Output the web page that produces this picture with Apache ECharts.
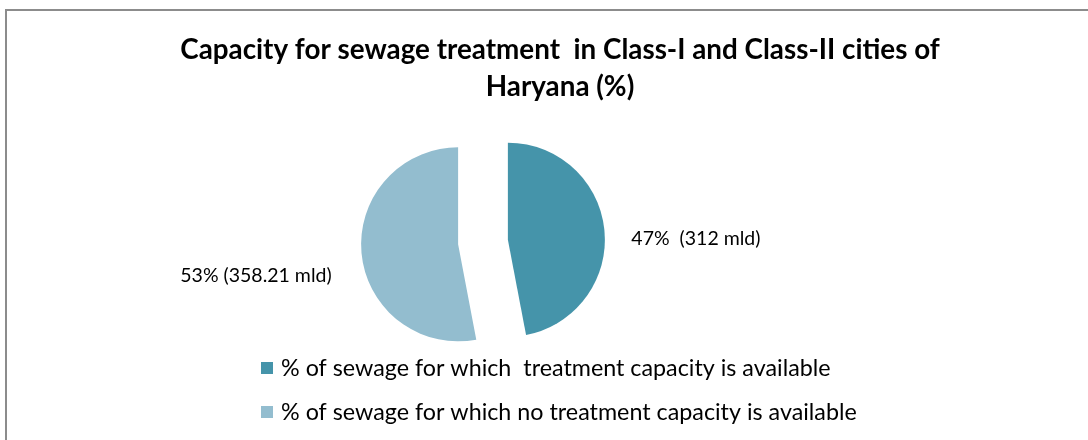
<!DOCTYPE html>
<html>
<head>
<meta charset="utf-8">
<script src="https://cdn.jsdelivr.net/npm/echarts@6/dist/echarts.min.js"></script>
<style>
html,body{margin:0;padding:0;background:#fff;}
#chart{width:1088px;height:440px;}
</style>
</head>
<body>
<div id="chart"></div>
<script>
const titleText = 'Capacity for sewage treatment  in Class-I and Class-II cities of\nHaryana (%)';
const categories = [
  '% of sewage for which  treatment capacity is available',
  '% of sewage for which no treatment capacity is available'
];
const percentValues = [47, 53];
const mldLabels = ['47%  (312 mld)', '53% (358.21 mld)'];
const colors = ['#4594aa', '#93bdcf'];

const chart = echarts.init(document.getElementById('chart'), null, {renderer: 'canvas'});
chart.setOption({
  animation: false,
  backgroundColor: '#ffffff',
  graphic: [{
    type: 'rect',
    shape: {x: 6, y: 10, width: 1200, height: 600},
    style: {fill: 'none', stroke: '#8c8c8c', lineWidth: 2},
    silent: true
  }],
  title: {
    text: titleText,
    left: 555,
    top: 27,
    textAlign: 'center',
    textStyle: {
      fontFamily: 'Lato',
      fontWeight: 'bold',
      fontSize: 27.8,
      lineHeight: 37,
      color: '#000'
    }
  },
  legend: {
    orient: 'vertical',
    left: 256,
    top: 351,
    itemWidth: 12,
    itemHeight: 12,
    itemGap: 20,
    icon: 'rect',
    selectedMode: false,
    data: categories,
    textStyle: {
      fontFamily: 'Lato',
      fontSize: 23.3,
      lineHeight: 24,
      color: '#000',
      padding: [0, 0, 0, 3]
    }
  },
  series: [{
    type: 'pie',
    center: [483, 242],
    radius: 97,
    startAngle: 90,
    clockwise: true,
    selectedMode: 'multiple',
    selectedOffset: 25,
    avoidLabelOverlap: false,
    emphasis: {disabled: true},
    label: {
      show: true,
      position: 'outside',
      fontFamily: 'Lato',
      fontSize: 19.5,
      color: '#000',
      formatter: p => mldLabels[p.dataIndex]
    },
    labelLine: {show: false, length: 22, length2: 0},
    labelLayout: function (params) {
      if (params.dataIndex === 1) {
        return {dy: 20, dx: -3};
      }
      return {dy: 10};
    },
    data: categories.map((name, i) => ({
      name: name,
      value: percentValues[i],
      selected: true,
      itemStyle: {color: colors[i]}
    }))
  }]
});
</script>
</body>
</html>
